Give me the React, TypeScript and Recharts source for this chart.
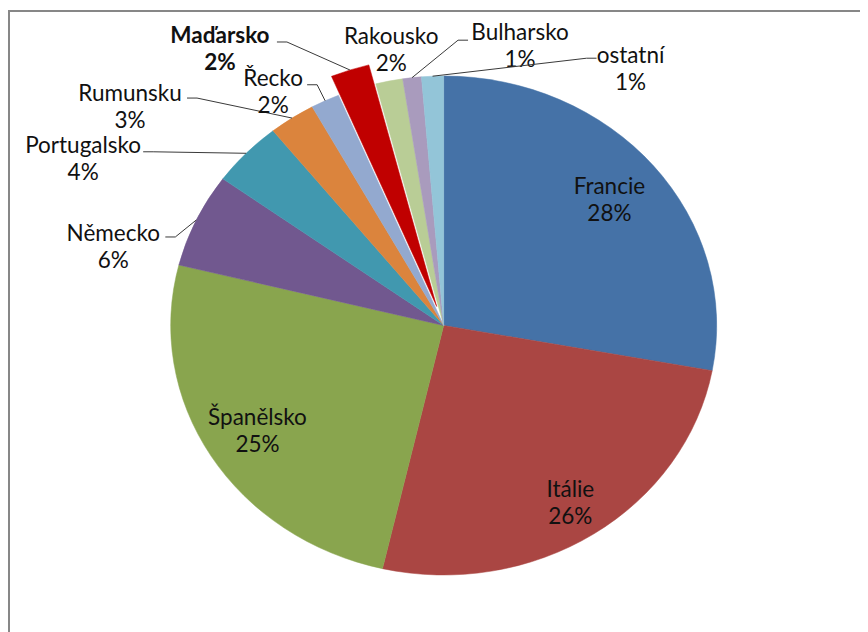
import React from "react";
import { PieChart, Pie, Cell } from "recharts";

// ---- data ----
const countries = [
  "Francie",
  "Itálie",
  "Španělsko",
  "Německo",
  "Portugalsko",
  "Rumunsku",
  "Řecko",
  "Maďarsko",
  "Rakousko",
  "Bulharsko",
  "ostatní",
];
const shares = [27.9, 25.7, 25.3, 6.1, 4.25, 2.75, 1.7, 2.3, 1.6, 1.1, 1.3];
const colors = [
  "#4572A7",
  "#AA4643",
  "#89A54E",
  "#71588F",
  "#4198AF",
  "#DB843D",
  "#93A9CF",
  "#C00000",
  "#B9CD96",
  "#A99BBD",
  "#93C5D8",
];
const highlighted = "Maďarsko";

const data = countries.map((name, i) => ({ name, value: shares[i] }));

// ---- layout ----
const W = 860;
const H = 624;
const CX = 435.7;
const CY = 317.5;
const R = 249.5;
const STRETCH = 273 / 249.5;
const EXPLODE = 20;
const LINE_GAP = 27;
const FONT = "Lato, 'Noto Sans', sans-serif";
const FONT_SIZE = 22.5;

// inside labels: radius factor; outside labels: offset of label centre from slice edge, and leader attach point rel. to label centre
type LL = { k?: number; dx?: number; dy?: number; ax?: number; ay?: number; noLine?: boolean };
const labelLayout: LL[] = [
  { k: 0.79 },
  { k: 0.845 },
  { k: 0.8 },
  { dx: -83, dy: 26.5, ax: 52, ay: -9.5 },
  { dx: -163, dy: 5, ax: 60, ay: -6.5 },
  { dx: -162, dy: -12, ax: 57, ay: -8 },
  { dx: -52, dy: -10, ax: 34, ay: -6 },
  { dx: -130, dy: -21.5, ax: 57, ay: -6.5 },
  { dx: 2, dy: -32.5, noLine: true },
  { dx: 108, dy: -33, ax: -52, ay: -4.5 },
  { dx: 198, dy: -8, ax: -34, ay: -10 },
];

const RAD = Math.PI / 180;

const ellPoint = (cx: number, cy: number, r: number, a: number) => ({
  x: cx + r * STRETCH * Math.cos(a * RAD),
  y: cy - r * Math.sin(a * RAD),
});

const explodeOffset = (name: string, mid: number) =>
  name === highlighted
    ? { x: EXPLODE * STRETCH * Math.cos(mid * RAD), y: -EXPLODE * Math.sin(mid * RAD) }
    : { x: 0, y: 0 };

const renderSlice = (props: any) => {
  const { cx, cy, outerRadius, startAngle, endAngle, fill, name } = props;
  const mid = (startAngle + endAngle) / 2;
  const off = explodeOffset(name, mid);
  const p1 = ellPoint(cx, cy, outerRadius, startAngle);
  const p2 = ellPoint(cx, cy, outerRadius, endAngle);
  const large = Math.abs(startAngle - endAngle) > 180 ? 1 : 0;
  const sweep = startAngle > endAngle ? 1 : 0;
  const d = `M${cx},${cy} L${p1.x},${p1.y} A${outerRadius * STRETCH},${outerRadius} 0 ${large} ${sweep} ${p2.x},${p2.y} Z`;
  return (
    <path
      d={d}
      fill={fill}
      stroke={fill}
      strokeWidth={0.5}
      transform={`translate(${off.x},${off.y})`}
    />
  );
};

const renderLabel = (props: any) => {
  const { cx, cy, outerRadius, midAngle, name, percent } = props;
  const i = countries.indexOf(name);
  const lay = labelLayout[i];
  const bold = name === highlighted;
  let lx: number;
  let ly: number;
  let line: React.ReactNode = null;
  if (lay.k !== undefined) {
    const p = ellPoint(cx, cy, outerRadius * lay.k, midAngle);
    lx = p.x;
    ly = p.y;
  } else {
    const off = explodeOffset(name, midAngle);
    const e = ellPoint(cx, cy, outerRadius, midAngle);
    const ex = e.x + off.x;
    const ey = e.y + off.y;
    lx = ex + (lay.dx as number);
    ly = ey + (lay.dy as number);
    if (!lay.noLine) {
      const axp = lx + (lay.ax as number);
      const ayp = ly + (lay.ay as number);
      const sign = ex > axp ? 1 : -1;
      const kx = axp + sign * 10;
      line = (
        <polyline
          points={`${axp},${ayp} ${kx},${ayp} ${ex},${ey}`}
          fill="none"
          stroke="#3a3a3a"
          strokeWidth={1}
        />
      );
    }
  }
  const pct = `${Math.round(percent * 100)}%`;
  return (
    <g key={`lbl-${name}`}>
      {line}
      <text
        x={lx}
        y={ly - LINE_GAP / 2}
        textAnchor="middle"
        dominantBaseline="central"
        fontFamily={FONT}
        fontSize={FONT_SIZE}
        fontWeight={bold ? 700 : 400}
        fill="#111"
      >
        {name}
      </text>
      <text
        x={lx}
        y={ly + LINE_GAP / 2}
        textAnchor="middle"
        dominantBaseline="central"
        fontFamily={FONT}
        fontSize={FONT_SIZE}
        fontWeight={bold ? 700 : 400}
        fill="#111"
      >
        {pct}
      </text>
    </g>
  );
};

export default function App() {
  return (
    <div style={{ position: "relative", width: W, height: H, overflow: "hidden", background: "#fff" }}>
      <div
        style={{
          position: "absolute",
          left: 0,
          top: 2,
          width: 920,
          height: 720,
          border: "2px solid #878787",
          boxSizing: "border-box",
        }}
      />
      <div style={{ position: "absolute", left: 0, top: 0 }}>
        <PieChart width={W} height={H} margin={{ top: 0, right: 0, bottom: 0, left: 0 }}>
          <Pie
            data={data}
            dataKey="value"
            nameKey="name"
            cx={CX}
            cy={CY}
            outerRadius={R}
            startAngle={90}
            endAngle={-270}
            isAnimationActive={false}
            labelLine={false}
            label={renderLabel}
            shape={renderSlice}
            activeShape={renderSlice}
            inactiveShape={renderSlice}
            stroke="none"
          >
            {data.map((d, i) => (
              <Cell key={d.name} fill={colors[i]} />
            ))}
          </Pie>
        </PieChart>
      </div>
    </div>
  );
}
